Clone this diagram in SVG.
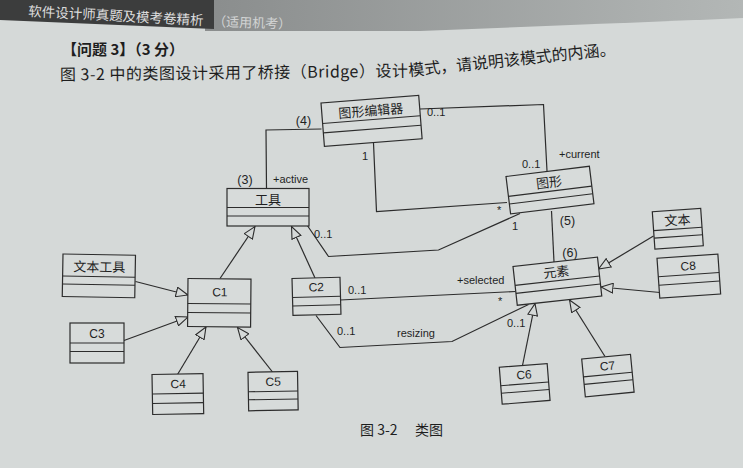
<svg xmlns="http://www.w3.org/2000/svg" width="743" height="468" viewBox="0 0 743 468">
<style>
.bx{fill:#d7dbda;stroke:#2c2c2c;stroke-width:1.2}
.dv{stroke:#2c2c2c;stroke-width:1.1}
.cn{font-family:"Noto Sans CJK SC",sans-serif;fill:#1f1f1f;text-anchor:middle;dominant-baseline:central;font-size:13px}
.en{font-family:"Liberation Sans",Arial,sans-serif;fill:#1f1f1f;text-anchor:middle;dominant-baseline:central;font-size:12px}
.lb{font-family:"Liberation Sans",Arial,sans-serif;fill:#1f1f1f;font-size:11px}
.pl{font-family:"Liberation Sans",Arial,sans-serif;fill:#1f1f1f;font-size:12.5px;text-anchor:middle}
.ln{fill:none;stroke:#2c2c2c;stroke-width:1.2}
.gn{fill:none;stroke:#2c2c2c;stroke-width:1.2;marker-end:url(#tri)}
.pg{font-family:"Noto Sans CJK SC",sans-serif;fill:#1e1e1e}
</style>
<defs>
<marker id="tri" viewBox="0 0 13 11" refX="12.5" refY="5.5" markerWidth="13" markerHeight="11" orient="auto" markerUnits="userSpaceOnUse"><path d="M0.6,0.6 L12.4,5.5 L0.6,10.4 Z" fill="#d5d9d8" stroke="#2c2c2c" stroke-width="1.1"/></marker>
<linearGradient id="hg" x1="0" y1="0" x2="1" y2="0"><stop offset="0" stop-color="#8a8d8d"/><stop offset="1" stop-color="#b3b7b6"/></linearGradient>
</defs>
<rect width="743" height="468" fill="#d5d9d8"/>
<path d="M205,0 H743 V18 Q600,24 420,31 L205,31 Z" fill="url(#hg)"/>
<path d="M0,0 H214 V29 L0,20 Z" fill="#3c3d3d"/>
<text x="28" y="16" transform="rotate(3,28,16)" font-family="'Noto Sans CJK SC',sans-serif" font-size="13.5" fill="#dedede">软件设计师真题及模考卷精析</text>
<text x="213" y="26" transform="rotate(2,213,26)" font-family="'Noto Sans CJK SC',sans-serif" font-size="13" fill="#d2d4d4">（适用机考）</text>
<text class="pg" x="62" y="55" font-size="15" font-weight="bold">【问题 3】（3 分）</text>
<text class="pg" x="60" y="80.5" font-size="16" textLength="348" lengthAdjust="spacing" transform="rotate(-0.66,60,80.5)">图 3-2 中的类图设计采用了桥接（Bridge）设计</text>
<text class="pg" x="409" y="76.3" font-size="16" transform="rotate(-6,409,76.3)">模式，请说明该模式的内涵。</text>

<g id="connectors">
<polyline class="ln" points="321.5,129 266,130 266.5,188.5"/>
<polyline class="ln" points="373.5,143 376.5,211.5 507,202.5"/>
<polyline class="ln" points="420,109 543.5,104.5 547,171"/>
<polyline class="ln" points="307,225 328.5,256.5 438.5,250 520,213.5"/>
<line class="ln" x1="551.5" y1="211" x2="554" y2="262"/>
<line class="ln" x1="340" y1="300" x2="515.5" y2="291.5"/>
<polyline class="ln" points="316,315.5 340,347.5 452,341.5 528.5,304.5"/>
<line class="gn" x1="220" y1="278.5" x2="255" y2="226.5"/>
<line class="gn" x1="315" y1="278" x2="291.5" y2="226.5"/>
<line class="gn" x1="135.5" y1="281.5" x2="188" y2="295"/>
<line class="gn" x1="124" y1="340.5" x2="188" y2="317"/>
<line class="gn" x1="177.5" y1="374.5" x2="206" y2="327"/>
<line class="gn" x1="272.5" y1="372" x2="237.5" y2="327.5"/>
<line class="gn" x1="522.5" y1="365.5" x2="535" y2="303.5"/>
<line class="gn" x1="605" y1="356.5" x2="569.5" y2="300"/>
<line class="gn" x1="653.5" y1="236" x2="598.5" y2="269"/>
<line class="gn" x1="660" y1="292.5" x2="601" y2="287"/>
<text class="pl" x="303.5" y="125">(4)</text>
<text class="pl" x="245" y="184">(3)</text>
<text class="lb" x="273" y="182.5">+active</text>
<text class="lb" x="362" y="159.5">1</text>
<text class="lb" x="427" y="116">0..1</text>
<text class="lb" x="497" y="214">*</text>
<text class="lb" x="522" y="168">0..1</text>
<text class="lb" x="559" y="158">+current</text>
<text class="lb" x="512" y="229.5">1</text>
<text class="pl" x="567.5" y="224.5">(5)</text>
<text class="pl" x="570" y="257">(6)</text>
<text class="lb" x="314" y="237.5">0..1</text>
<text class="lb" x="348" y="293.5">0..1</text>
<text class="lb" x="457" y="284">+selected</text>
<text class="lb" x="498" y="305">*</text>
<text class="lb" x="337" y="335">0..1</text>
<text class="lb" x="397" y="337">resizing</text>
<text class="lb" x="507" y="326.5">0..1</text>
</g>

<g id="n-editor" transform="translate(321,103) rotate(-4.5)">
<rect class="bx" width="98" height="43.5"/><line class="dv" x1="0" y1="20.5" x2="98" y2="20.5"/><line class="dv" x1="0" y1="30" x2="98" y2="30"/>
<text class="cn" x="49" y="11" font-size="12.5">图形编辑器</text></g>
<g id="n-shape" transform="translate(506,176.5) rotate(-7)">
<rect class="bx" width="84" height="37.7"/><line class="dv" x1="0" y1="20" x2="84" y2="20"/><line class="dv" x1="0" y1="27.7" x2="84" y2="27.7"/>
<text class="cn" x="42" y="10.5">图形</text></g>
<g id="n-tool" transform="translate(227,188.5)">
<rect class="bx" width="82" height="37.5"/><line class="dv" x1="0" y1="19" x2="82" y2="19"/><line class="dv" x1="0" y1="27.5" x2="82" y2="27.5"/>
<text class="cn" x="41" y="9.5">工具</text></g>
<g id="n-texttool" transform="translate(63,254) rotate(1)">
<rect class="bx" width="72.5" height="42.5"/><line class="dv" x1="0" y1="22" x2="72.5" y2="22"/><line class="dv" x1="0" y1="30" x2="72.5" y2="30"/>
<text class="cn" x="36.5" y="11.5" font-size="13.5">文本工具</text></g>
<g id="n-c1" transform="translate(188,278.5) rotate(0.5)">
<rect class="bx" width="63" height="48"/><line class="dv" x1="0" y1="25" x2="63" y2="25"/><line class="dv" x1="0" y1="34" x2="63" y2="34"/>
<text class="en" x="32" y="13.5">C1</text></g>
<g id="n-c2" transform="translate(292,278.5) rotate(-1.5)">
<rect class="bx" width="48" height="37"/><line class="dv" x1="0" y1="19" x2="48" y2="19"/><line class="dv" x1="0" y1="27.5" x2="48" y2="27.5"/>
<text class="en" x="24" y="9.5">C2</text></g>
<g id="n-c3" transform="translate(70,323)">
<rect class="bx" width="54" height="40"/><line class="dv" x1="0" y1="20" x2="54" y2="20"/><line class="dv" x1="0" y1="28.5" x2="54" y2="28.5"/>
<text class="en" x="27" y="10.5">C3</text></g>
<g id="n-c4" transform="translate(152,374.5) rotate(-1)">
<rect class="bx" width="51" height="40"/><line class="dv" x1="0" y1="19.5" x2="51" y2="19.5"/><line class="dv" x1="0" y1="29" x2="51" y2="29"/>
<text class="en" x="26" y="10">C4</text></g>
<g id="n-c5" transform="translate(248,372.3) rotate(-1)">
<rect class="bx" width="49.5" height="38.5"/><line class="dv" x1="0" y1="19.5" x2="49.5" y2="19.5"/><line class="dv" x1="0" y1="27.5" x2="49.5" y2="27.5"/>
<text class="en" x="25" y="10">C5</text></g>
<g id="n-c6" transform="translate(499.3,367.3) rotate(-4.5)">
<rect class="bx" width="48" height="37"/><line class="dv" x1="0" y1="18.5" x2="48" y2="18.5"/><line class="dv" x1="0" y1="26" x2="48" y2="26"/>
<text class="en" x="24" y="9.5">C6</text></g>
<g id="n-c7" transform="translate(581.7,359) rotate(-5.5)">
<rect class="bx" width="49" height="38"/><line class="dv" x1="0" y1="18" x2="49" y2="18"/><line class="dv" x1="0" y1="25.5" x2="49" y2="25.5"/>
<text class="en" x="25" y="9.5">C7</text></g>
<g id="n-element" transform="translate(513,266.5) rotate(-6.3)">
<rect class="bx" width="85" height="39"/><line class="dv" x1="0" y1="19" x2="85" y2="19"/><line class="dv" x1="0" y1="27" x2="85" y2="27"/>
<text class="cn" x="42.5" y="9.5">元素</text></g>
<g id="n-text" transform="translate(652.3,211.7) rotate(-4)">
<rect class="bx" width="48.5" height="37.5"/><line class="dv" x1="0" y1="19" x2="48.5" y2="19"/><line class="dv" x1="0" y1="26.5" x2="48.5" y2="26.5"/>
<text class="cn" x="24.5" y="9.5">文本</text></g>
<g id="n-c8" transform="translate(657,258.3) rotate(-4)">
<rect class="bx" width="61" height="40"/><line class="dv" x1="0" y1="18.5" x2="61" y2="18.5"/><line class="dv" x1="0" y1="27" x2="61" y2="27"/>
<text class="en" x="30.5" y="10">C8</text></g>

<text class="pg" x="360" y="435" font-size="14">图 3-2<tspan x="415">类图</tspan></text>
</svg>
